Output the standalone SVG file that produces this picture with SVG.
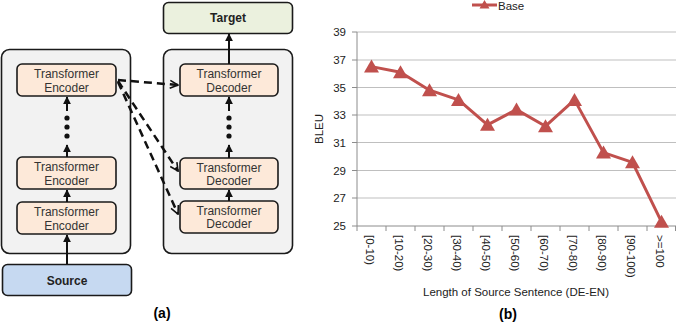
<svg xmlns="http://www.w3.org/2000/svg" width="676" height="322" viewBox="0 0 676 322">
<style>
.outer{fill:#f2f2f2;stroke:#1a1a1a;stroke-width:1.6}
.blk{fill:#fde9d9;stroke:#1a1a1a;stroke-width:1.6}
.bt{font-family:"Liberation Sans",Arial,sans-serif;font-size:12px;fill:#333;text-anchor:middle}
.bold{font-family:"Liberation Sans",Arial,sans-serif;font-size:12px;font-weight:bold;fill:#222;text-anchor:middle}
.cap{font-family:"Liberation Sans",Arial,sans-serif;font-size:14px;font-weight:bold;fill:#000;text-anchor:middle}
.sol{stroke:#111;stroke-width:2;fill:none;marker-end:url(#ah)}
.dash{stroke:#111;stroke-width:2.5;fill:none;stroke-dasharray:8 5;marker-end:url(#va)}
.dot{fill:#111}
.grid{stroke:#bfbfbf;stroke-width:1}
.ax{stroke:#8c8c8c;stroke-width:1}
.tl{font-family:"Liberation Sans",Arial,sans-serif;font-size:11.5px;fill:#222}
.ser{stroke:#c0504d;stroke-width:3;fill:none;stroke-linejoin:round}
.mk{fill:#c0504d}
</style>
<defs>
<marker id="ah" viewBox="0 0 10 10" refX="9" refY="5" markerWidth="4" markerHeight="4" orient="auto" markerUnits="strokeWidth">
<path d="M0,0 L10,5 L0,10 z" fill="#111"/>
</marker>
<marker id="va" viewBox="0 0 10 10" refX="9" refY="5" markerWidth="4" markerHeight="4" orient="auto" markerUnits="strokeWidth">
<path d="M1,1 L9,5 L1,9" fill="none" stroke="#111" stroke-width="1.6"/>
</marker>
<path id="tri" d="M0,-7 L7.5,6 L-7.5,6 z"/>
</defs>

<g id="encoder-stack"><rect class="outer" x="1.5" y="49.5" width="129" height="204" rx="8"/></g>
<g id="decoder-stack"><rect class="outer" x="163.5" y="49.5" width="129" height="204" rx="8"/></g>

<g id="target"><rect x="163.5" y="2.5" width="129" height="31" rx="5" fill="#ebf1de" stroke="#1a1a1a" stroke-width="1.6"/><text class="bold" x="228" y="22">Target</text></g>
<g id="source"><rect x="2.5" y="264.5" width="129" height="31" rx="5" fill="#c6d9f1" stroke="#1a1a1a" stroke-width="1.6"/><text class="bold" x="67" y="285">Source</text></g>

<g id="enc3"><rect class="blk" x="17" y="64" width="99" height="32" rx="5"/><text class="bt" x="66.5" y="78">Transformer</text><text class="bt" x="66.5" y="92">Encoder</text></g>
<g id="enc2"><rect class="blk" x="17" y="157" width="99" height="32" rx="5"/><text class="bt" x="66.5" y="171">Transformer</text><text class="bt" x="66.5" y="185">Encoder</text></g>
<g id="enc1"><rect class="blk" x="17" y="202" width="99" height="32" rx="5"/><text class="bt" x="66.5" y="216">Transformer</text><text class="bt" x="66.5" y="230">Encoder</text></g>

<g id="dec3"><rect class="blk" x="180" y="64" width="98" height="32" rx="5"/><text class="bt" x="229" y="78">Transformer</text><text class="bt" x="229" y="92">Decoder</text></g>
<g id="dec2"><rect class="blk" x="180" y="158" width="98" height="31" rx="5"/><text class="bt" x="229" y="172">Transformer</text><text class="bt" x="229" y="185">Decoder</text></g>
<g id="dec1"><rect class="blk" x="180" y="201" width="98" height="32" rx="5"/><text class="bt" x="229" y="215">Transformer</text><text class="bt" x="229" y="228">Decoder</text></g>

<g id="connectors">
<line class="sol" x1="67" y1="264" x2="67" y2="235"/>
<line class="sol" x1="67" y1="202" x2="67" y2="190"/>
<line class="sol" x1="67" y1="157" x2="67" y2="145"/>
<line class="sol" x1="67" y1="111" x2="67" y2="97"/>
<circle class="dot" cx="67" cy="118" r="2.6"/><circle class="dot" cx="67" cy="127" r="2.6"/><circle class="dot" cx="67" cy="136" r="2.6"/>
<line class="sol" x1="229" y1="201" x2="229" y2="190"/>
<line class="sol" x1="229" y1="158" x2="229" y2="145"/>
<line class="sol" x1="229" y1="111" x2="229" y2="97"/>
<circle class="dot" cx="229" cy="118" r="2.6"/><circle class="dot" cx="229" cy="127" r="2.6"/><circle class="dot" cx="229" cy="136" r="2.6"/>
<line class="sol" x1="229" y1="64" x2="229" y2="34"/>
<line class="dash" x1="118" y1="80" x2="178" y2="85"/>
<line class="dash" x1="118" y1="81" x2="178" y2="171"/>
<line class="dash" x1="118" y1="82" x2="178" y2="214"/>
</g>

<text class="cap" x="162" y="318">(a)</text>

<g id="chart">
<g class="grid">
<line x1="357" y1="32" x2="676" y2="32"/>
<line x1="357" y1="60" x2="676" y2="60"/>
<line x1="357" y1="87.5" x2="676" y2="87.5"/>
<line x1="357" y1="115" x2="676" y2="115"/>
<line x1="357" y1="142.5" x2="676" y2="142.5"/>
<line x1="357" y1="170.5" x2="676" y2="170.5"/>
<line x1="357" y1="198" x2="676" y2="198"/>
</g>
<g class="ax">
<line x1="357" y1="32" x2="357" y2="226"/>
<line x1="352" y1="32" x2="357" y2="32"/>
<line x1="352" y1="60" x2="357" y2="60"/>
<line x1="352" y1="87.5" x2="357" y2="87.5"/>
<line x1="352" y1="115" x2="357" y2="115"/>
<line x1="352" y1="142.5" x2="357" y2="142.5"/>
<line x1="352" y1="170.5" x2="357" y2="170.5"/>
<line x1="352" y1="198" x2="357" y2="198"/>
<line x1="352" y1="226" x2="676" y2="226"/>
<line x1="357" y1="226" x2="357" y2="231"/>
<line x1="386" y1="226" x2="386" y2="231"/>
<line x1="415" y1="226" x2="415" y2="231"/>
<line x1="444" y1="226" x2="444" y2="231"/>
<line x1="473" y1="226" x2="473" y2="231"/>
<line x1="502" y1="226" x2="502" y2="231"/>
<line x1="531" y1="226" x2="531" y2="231"/>
<line x1="560" y1="226" x2="560" y2="231"/>
<line x1="589" y1="226" x2="589" y2="231"/>
<line x1="618" y1="226" x2="618" y2="231"/>
<line x1="647" y1="226" x2="647" y2="231"/>
<line x1="675.5" y1="226" x2="675.5" y2="231"/>
</g>
<g class="tl" text-anchor="end">
<text x="346" y="36">39</text>
<text x="346" y="64">37</text>
<text x="346" y="91.5">35</text>
<text x="346" y="119">33</text>
<text x="346" y="146.5">31</text>
<text x="346" y="174.5">29</text>
<text x="346" y="202">27</text>
<text x="346" y="230">25</text>
</g>
<g class="tl">
<text transform="translate(365.5,235) rotate(90)">[0-10)</text>
<text transform="translate(394.5,235) rotate(90)">[10-20)</text>
<text transform="translate(423.5,235) rotate(90)">[20-30)</text>
<text transform="translate(452.5,235) rotate(90)">[30-40)</text>
<text transform="translate(481.5,235) rotate(90)">[40-50)</text>
<text transform="translate(510.5,235) rotate(90)">[50-60)</text>
<text transform="translate(539.5,235) rotate(90)">[60-70)</text>
<text transform="translate(568.5,235) rotate(90)">[70-80)</text>
<text transform="translate(597.5,235) rotate(90)">[80-90)</text>
<text transform="translate(626.5,235) rotate(90)">[90-100)</text>
<text transform="translate(655.5,235) rotate(90)">&gt;=100</text>
</g>
<text class="tl" transform="translate(323,129) rotate(-90)" text-anchor="middle" font-size="12">BLEU</text>
<text class="tl" x="516" y="296" text-anchor="middle" font-size="12">Length of Source Sentence (DE-EN)</text>
<polyline class="ser" points="371.5,66.6 400.5,72.2 429.5,90.2 458.5,99.9 487.5,124.8 516.5,109.6 545.5,126.2 574.5,99.9 603.5,152.6 632.5,162.3 661.5,221.8"/>
<g class="mk">
<use href="#tri" x="371.5" y="66.6"/>
<use href="#tri" x="400.5" y="72.2"/>
<use href="#tri" x="429.5" y="90.2"/>
<use href="#tri" x="458.5" y="99.9"/>
<use href="#tri" x="487.5" y="124.8"/>
<use href="#tri" x="516.5" y="109.6"/>
<use href="#tri" x="545.5" y="126.2"/>
<use href="#tri" x="574.5" y="99.9"/>
<use href="#tri" x="603.5" y="152.6"/>
<use href="#tri" x="632.5" y="162.3"/>
<use href="#tri" x="661.5" y="221.8"/>
</g>
<g id="legend">
<line x1="472" y1="5" x2="497" y2="5" stroke="#c0504d" stroke-width="3"/>
<path d="M484.5,0 L489.5,8.5 L479.5,8.5 z" fill="#c0504d"/>
<text class="tl" x="498" y="9.5" font-size="12">Base</text>
</g>
</g>
<text class="cap" x="508" y="319">(b)</text>
</svg>
